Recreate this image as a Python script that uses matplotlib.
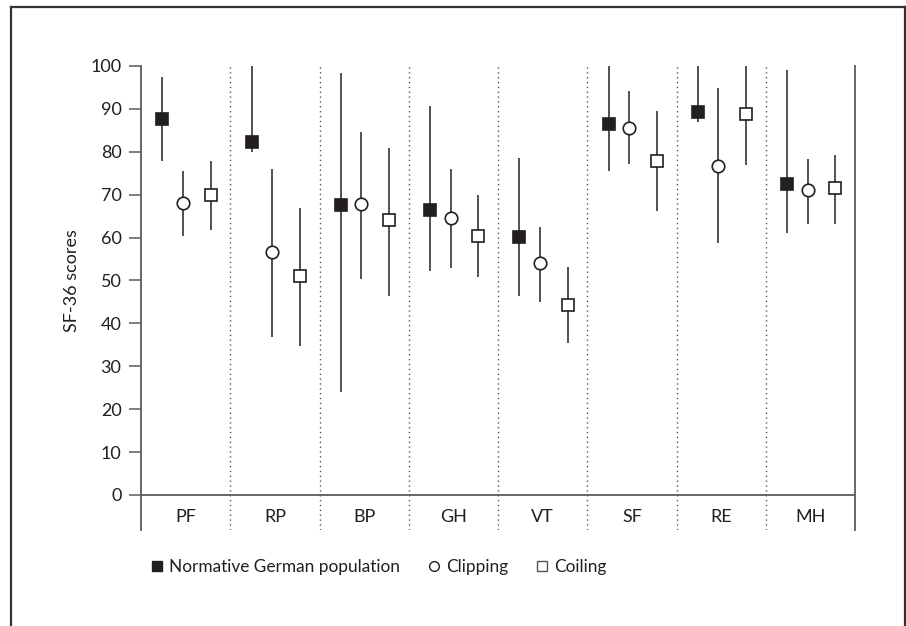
import matplotlib
matplotlib.use("Agg")
import matplotlib.pyplot as plt
from matplotlib.lines import Line2D

plt.rcParams['font.family'] = ['Lato', 'DejaVu Sans']

# SF-36 subscales
categories = ['PF', 'RP', 'BP', 'GH', 'VT', 'SF', 'RE', 'MH']

# mean, lower end, upper end of each bar
norm_mean = [87.6, 82.2, 67.5, 66.5, 60.2, 86.5, 89.2, 72.6]
norm_low = [77.9, 79.9, 24.1, 52.2, 46.5, 75.6, 86.9, 61.1]
norm_high = [97.4, 100.0, 98.3, 90.7, 78.5, 100.0, 100.0, 99.1]

clip_mean = [68.0, 56.6, 67.8, 64.5, 54.0, 85.6, 76.8, 71.0]
clip_low = [60.4, 36.8, 50.3, 52.8, 45.1, 77.2, 58.7, 63.2]
clip_high = [75.6, 76.1, 84.6, 76.0, 62.4, 94.1, 94.9, 78.4]

coil_mean = [69.9, 51.0, 64.0, 60.3, 44.4, 77.9, 88.7, 71.5]
coil_low = [61.7, 34.7, 46.5, 50.7, 35.5, 66.2, 77.0, 63.2]
coil_high = [77.9, 66.9, 80.8, 69.9, 53.2, 89.4, 100.0, 79.3]

W, H = 906, 626
fig = plt.figure(figsize=(W / 100, H / 100), dpi=100)

# axes box in pixels: x 141..855, y 66..530
ax = fig.add_axes([141 / W, (H - 530) / H, (855 - 141) / W, (530 - 66) / H])
ymin = -8.16
ax.set_xlim(0, 8)
ax.set_ylim(ymin, 100)

line_col = '#333333'
spine_col = '#5a5a5a'
txt_col = '#231f20'
fs = 13

series = [
    (norm_mean, norm_low, norm_high, 0.24, 's', txt_col, 'Normative German population'),
    (clip_mean, clip_low, clip_high, 0.47, 'o', 'white', 'Clipping'),
    (coil_mean, coil_low, coil_high, 0.78, 's', 'white', 'Coiling'),
]
for mean, low, high, off, mk, face, name in series:
    xs = [i + off for i in range(len(categories))]
    err = [[m - l for m, l in zip(mean, low)], [h - m for m, h in zip(mean, high)]]
    ax.errorbar(xs, mean, yerr=err, fmt=mk, ms=9, mfc=face, mec=txt_col,
                mew=1.2, ecolor=line_col, elinewidth=1.2, capsize=0, zorder=3)

# dotted separators between categories
for i in range(1, len(categories)):
    ax.axvline(i, color='#555555', lw=1, ls=(0, (1, 2.5)), zorder=1)

# zero line
ax.axhline(0, color=spine_col, lw=1.3, zorder=2)

for s in ['top', 'bottom']:
    ax.spines[s].set_visible(False)
for s in ['left', 'right']:
    ax.spines[s].set_color(spine_col)
    ax.spines[s].set_linewidth(1.3)

ax.set_yticks(range(0, 101, 10))
ax.tick_params(axis='y', direction='out', length=9, width=1.1, color=spine_col,
               pad=5, labelsize=fs, labelcolor=txt_col)
ax.set_xticks([])

for i, c in enumerate(categories):
    ax.text(i + 0.5, -5.1, c, ha='center', va='center', fontsize=fs, color=txt_col)

ax.set_ylabel('SF-36 scores', fontsize=fs, color=txt_col)
ax.yaxis.set_label_coords(-(141 - 80) / 714, (50 - ymin) / (100 - ymin))

# legend
handles = [
    Line2D([], [], ls='none', marker='s', ms=7, mfc=txt_col, mec=txt_col),
    Line2D([], [], ls='none', marker='o', ms=7, mfc='white', mec=txt_col, mew=1),
    Line2D([], [], ls='none', marker='s', ms=7, mfc='white', mec='#555555', mew=1),
]
labels = [s[6] for s in series]
fig.legend(handles, labels, loc='center left', bbox_to_anchor=(135 / W, (H - 567) / H),
           ncol=3, frameon=False, fontsize=12.4, handlelength=0.8, handletextpad=0.3,
           columnspacing=1.55, labelcolor=txt_col)

# outer frame (open at the bottom)
frame = dict(color='#333333', lw=1.6, transform=None)
fig.add_artist(Line2D([11, 11], [0, H - 7], **frame))
fig.add_artist(Line2D([11, 905], [H - 7, H - 7], **frame))
fig.add_artist(Line2D([905, 905], [0, H - 7], **frame))

fig.savefig('out.png', dpi=100)
